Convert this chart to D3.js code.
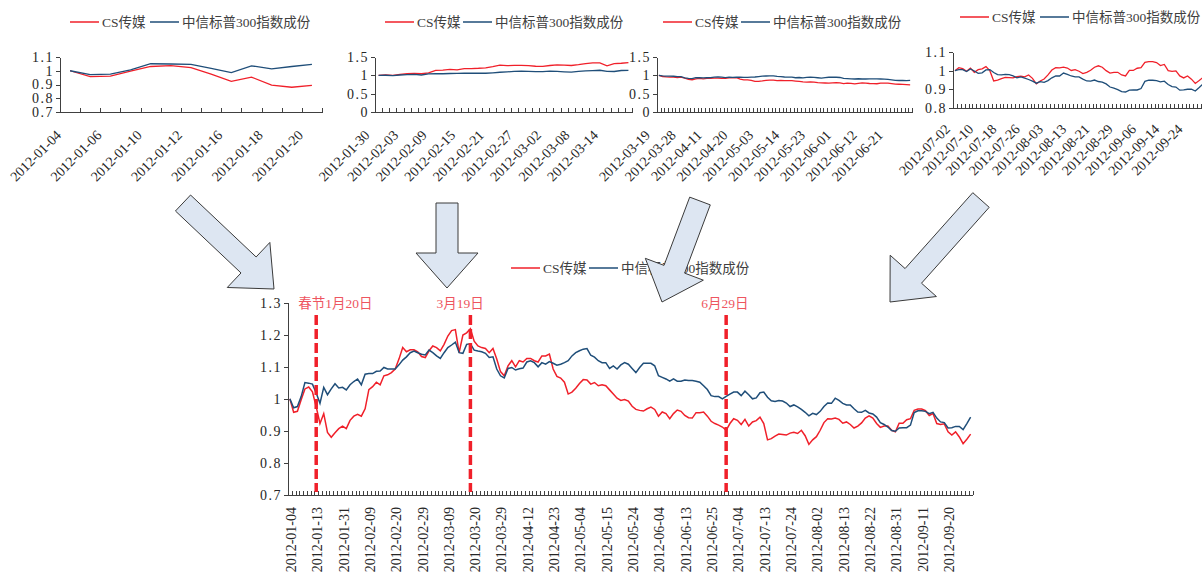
<!DOCTYPE html>
<meta charset="utf-8">
<style>
body { margin: 0; background: #fff; }
svg { display: block; font-family: "Liberation Serif", "Times New Roman", "Noto Sans CJK SC", serif; }
.axis path, .axis line { stroke: #404040; shape-rendering: crispEdges; }
.axis text { font-family: "Liberation Serif", serif; font-size: 14px; fill: #262626; letter-spacing: 1.5px; }
.xlab { font-size: 14px; fill: #262626; }
.legend text { font-size: 13.5px; fill: #404040; font-family: "Liberation Serif", "Noto Sans CJK SC", serif; }
.mark-label { font-size: 13.5px; fill: #ee5560; font-family: "Liberation Serif", "Noto Sans CJK SC", serif; }
.arrow { fill: #dde6f2; stroke: #3a3a3a; stroke-width: 1; }
</style>
<svg width="1202" height="573"></svg>
<script src="https://d3js.org/d3.v7.min.js"></script>
<script>

// trading days of 2012, one list per month (Jan..Sep)
var tradeDays = [
  [4,5,6,9,10,11,12,13,16,17,18,19,20,30,31],
  [1,2,3,6,7,8,9,10,13,14,15,16,17,20,21,22,23,24,27,28,29],
  [1,2,5,6,7,8,9,12,13,14,15,16,19,20,21,22,23,26,27,28,29,30],
  [5,6,9,10,11,12,13,16,17,18,19,20,23,24,25,26,27],
  [2,3,4,7,8,9,10,11,14,15,16,17,18,21,22,23,24,25,28,29,30,31],
  [1,4,5,6,7,8,11,12,13,14,15,18,19,20,21,25,26,27,28,29],
  [2,3,4,5,6,9,10,11,12,13,16,17,18,19,20,23,24,25,26,27,30,31],
  [1,2,3,6,7,8,9,10,13,14,15,16,17,20,21,22,23,24,27,28,29,30,31],
  [3,4,5,6,7,10,11,12,13,14,17,18,19,20,21,24,25,26,27,28]
];

var seriesNames = ["CS传媒", "中信标普300指数成份"];

// CS传媒, based 2012-01-04 = 1
var csMedia = [
  1.0,0.958,0.961,0.997,1.031,1.037,1.022,0.975,0.923,0.954,0.895,0.88,0.894,
  0.907,0.915,0.907,0.933,0.946,0.952,0.946,0.969,1.029,1.038,1.052,1.044,1.072,1.075,1.082,1.093,1.124,
  1.16,1.147,1.153,1.153,1.147,1.132,1.129,1.15,1.165,1.16,1.15,1.17,1.196,1.213,1.216,1.144,1.199,1.206,1.219,
  1.18,1.165,1.16,1.157,1.144,1.157,1.124,1.085,1.072,1.103,1.119,1.1,
  1.119,1.115,1.126,1.126,1.119,1.115,1.134,1.134,1.14,1.093,1.07,1.065,1.052,1.015,1.021,1.033,1.048,1.06,1.059,1.046,
  1.051,1.041,1.044,1.041,1.028,1.015,1.002,0.995,0.998,0.993,0.977,0.967,0.964,0.962,0.969,0.974,0.967,0.946,0.959,0.954,
  0.938,0.954,0.965,0.961,0.948,0.941,0.94,0.957,0.957,0.959,0.946,0.93,0.923,0.918,0.912,0.902,0.923,0.938,0.933,0.92,
  0.936,0.915,0.928,0.932,0.943,0.923,0.872,0.876,0.884,0.89,0.889,0.887,0.893,0.896,0.892,0.902,0.885,0.858,0.872,0.882,
  0.902,0.926,0.938,0.937,0.94,0.936,0.924,0.928,0.92,0.909,0.915,0.925,0.94,0.947,0.94,0.923,0.911,0.915,0.915,0.902,
  0.897,0.924,0.924,0.935,0.938,0.964,0.968,0.968,0.963,0.948,0.954,0.923,0.92,0.922,0.897,0.887,0.897,0.881,0.86,0.874,0.89
];

// 中信标普300指数成份, based 2012-01-04 = 1
var csi300 = [
  1.0,0.972,0.976,1.007,1.051,1.049,1.046,1.018,0.986,1.036,1.013,1.031,1.047,
  1.034,1.036,1.028,1.044,1.054,1.062,1.044,1.077,1.079,1.079,1.086,1.087,1.098,1.093,1.093,1.093,1.106,
  1.121,1.131,1.144,1.149,1.144,1.139,1.137,1.152,1.144,1.134,1.126,1.144,1.16,1.168,1.177,1.144,1.142,1.17,1.172,
  1.152,1.149,1.147,1.142,1.129,1.131,1.093,1.072,1.065,1.095,1.098,1.09,
  1.094,1.096,1.115,1.119,1.113,1.1,1.113,1.108,1.116,1.111,1.105,1.108,1.113,1.119,1.134,1.144,1.15,1.155,1.157,1.136,
  1.13,1.119,1.113,1.113,1.095,1.103,1.093,1.106,1.113,1.108,1.095,1.082,1.098,1.111,1.111,1.111,1.103,1.072,1.067,1.062,
  1.055,1.062,1.055,1.055,1.059,1.057,1.057,1.055,1.052,1.041,1.029,1.01,1.007,1.007,1.0,1.008,1.015,1.021,1.021,1.01,
  1.024,1.013,1.0,1.003,1.019,1.021,1.005,0.994,0.992,0.995,0.993,0.987,0.976,0.981,0.975,0.967,0.958,0.947,0.955,0.951,
  0.961,0.976,0.987,0.986,1.002,0.995,0.986,0.981,0.981,0.969,0.959,0.958,0.964,0.956,0.953,0.943,0.926,0.92,0.912,0.901,
  0.899,0.909,0.91,0.91,0.918,0.957,0.963,0.963,0.961,0.954,0.958,0.94,0.928,0.926,0.909,0.91,0.914,0.914,0.904,0.923,0.943
];

var markerDates = ["2012-01-13", "2012-03-19", "2012-06-29"];
var markerLabels = ["春节1月20日", "3月19日", "6月29日"];

var colors = ["#f0202a", "#1f4e79"];
var pad2 = d3.format("02d");
var dates = [];
tradeDays.forEach(function(days, m) {
  days.forEach(function(d) { dates.push("2012-" + pad2(m + 1) + "-" + pad2(d)); });
});

var svg = d3.select("svg");
var fmt = function(d) { return d3.format(".1f")(d).replace(/\.0$/, ""); };

// layout of the five charts
var charts = [
  {from: "2012-01-04", to: "2012-01-20", x: [60, 322], y: [112, 57], domain: [0.7, 1.1], ticks: [0.7, 0.8, 0.9, 1, 1.1],
   every: 2, rot: -45, lab: [-8, 24], legend: [22, 70, 150]},
  {from: "2012-01-30", to: "2012-03-19", x: [375, 632], y: [112, 57], domain: [0, 1.5], ticks: [0, 0.5, 1, 1.5],
   every: 4, rot: -45, lab: [-8, 24], legend: [22, 385, 463]},
  {from: "2012-03-19", to: "2012-06-29", x: [657, 912], y: [112, 57], domain: [0, 1.5], ticks: [0, 0.5, 1, 1.5],
   every: 7, rot: -45, lab: [-8, 24], legend: [22, 663, 741]},
  {from: "2012-07-02", to: "2012-09-28", x: [953, 1205], y: [108, 52], domain: [0.8, 1.1], ticks: [0.8, 0.9, 1, 1.1],
   every: 6, rot: -45, lab: [-4, 22], legend: [17, 960, 1040]},
  {from: "2012-01-04", to: "2012-09-28", x: [288, 972.5], y: [495, 302.7], domain: [0.7, 1.3], ticks: [0.7, 0.8, 0.9, 1, 1.1, 1.2, 1.3],
   every: 7, rot: -90, lab: [6, 12], legend: [268, 511, 589], main: true}
];

function drawChart(c) {
  var i0 = dates.indexOf(c.from), i1 = dates.indexOf(c.to);
  var cats = dates.slice(i0, i1 + 1);
  var series = [csMedia, csi300].map(function(s) {
    var base = c.main ? 1 : s[i0];
    return s.slice(i0, i1 + 1).map(function(v) { return v / base; });
  });

  var x = d3.scaleBand().domain(cats).range(c.x);
  var y = d3.scaleLinear().domain(c.domain).range(c.y);
  var xb = d3.scaleLinear().domain([0, cats.length]).range(c.x);
  var cx = function(d) { return x(d) + x.bandwidth() / 2; };
  var g = svg.append("g");

  g.append("g").attr("class", "axis")
    .attr("transform", "translate(" + c.x[0] + ",0)")
    .call(d3.axisLeft(y).tickValues(c.ticks).tickSize(4).tickSizeOuter(0).tickPadding(2).tickFormat(fmt));

  g.append("g").attr("class", "axis")
    .attr("transform", "translate(0," + c.y[0] + ")")
    .call(d3.axisBottom(xb).tickValues(d3.range(cats.length + 1)).tickSize(-4).tickSizeOuter(0).tickFormat(""));

  g.selectAll(".xlab")
    .data(cats.filter(function(d, i) { return i % c.every === 0; }))
    .enter().append("text")
    .attr("class", "xlab")
    .attr("text-anchor", "end")
    .attr("transform", function(d) {
      return "translate(" + (cx(d) + c.lab[0]) + "," + (c.y[0] + c.lab[1]) + ") rotate(" + c.rot + ")";
    })
    .text(function(d) { return d; });

  var line = d3.line()
    .x(function(d, i) { return cx(cats[i]); })
    .y(function(d) { return y(d); });

  g.selectAll(".series")
    .data(series)
    .enter().append("path")
    .attr("fill", "none")
    .attr("stroke", function(d, k) { return colors[k]; })
    .attr("stroke-width", c.main ? 1.5 : 1.3)
    .attr("d", line);

  var lg = g.append("g").attr("class", "legend");
  seriesNames.forEach(function(name, k) {
    var lx = c.legend[1 + k];
    lg.append("line")
      .attr("x1", lx).attr("x2", lx + 29)
      .attr("y1", c.legend[0]).attr("y2", c.legend[0])
      .attr("stroke", colors[k]).attr("stroke-width", 1.5);
    lg.append("text")
      .attr("x", lx + 32).attr("y", c.legend[0]).attr("dy", "0.35em")
      .text(name);
  });

  if (c.main) {
    var labelDx = [-18, -34, -25];
    markerDates.forEach(function(d, k) {
      var mx = cx(d);
      g.append("line")
        .attr("x1", mx).attr("x2", mx)
        .attr("y1", 315).attr("y2", 492)
        .attr("stroke", "#f0202a").attr("stroke-width", 3.5)
        .attr("stroke-dasharray", "10,4");
      g.append("text").attr("class", "mark-label")
        .attr("x", mx + labelDx[k]).attr("y", 303).attr("dy", "0.35em")
        .text(markerLabels[k]);
    });
  }
}

charts.forEach(drawChart);

// block arrows from the small charts down to the main one
var arrows = [
  {tail: [183, 203], tip: [274, 289]},
  {tail: [447, 203], tip: [447, 288]},
  {tail: [700, 201], tip: [662, 302]},
  {tail: [981, 200], tip: [890, 302]}
];

function arrowPoints(a) {
  var dx = a.tip[0] - a.tail[0], dy = a.tip[1] - a.tail[1];
  var len = Math.sqrt(dx * dx + dy * dy);
  var ux = dx / len, uy = dy / len, nx = -uy, ny = ux;
  var s = 11, L = 35, W = 31;
  var bx = a.tip[0] - L * ux, by = a.tip[1] - L * uy;
  return [
    [a.tail[0] + s * nx, a.tail[1] + s * ny],
    [bx + s * nx, by + s * ny],
    [bx + W * nx, by + W * ny],
    a.tip,
    [bx - W * nx, by - W * ny],
    [bx - s * nx, by - s * ny],
    [a.tail[0] - s * nx, a.tail[1] - s * ny]
  ];
}

svg.selectAll(".arrow")
  .data(arrows)
  .enter().append("polygon")
  .attr("class", "arrow")
  .attr("points", function(a) { return arrowPoints(a).map(function(p) { return p.join(","); }).join(" "); });

</script>
